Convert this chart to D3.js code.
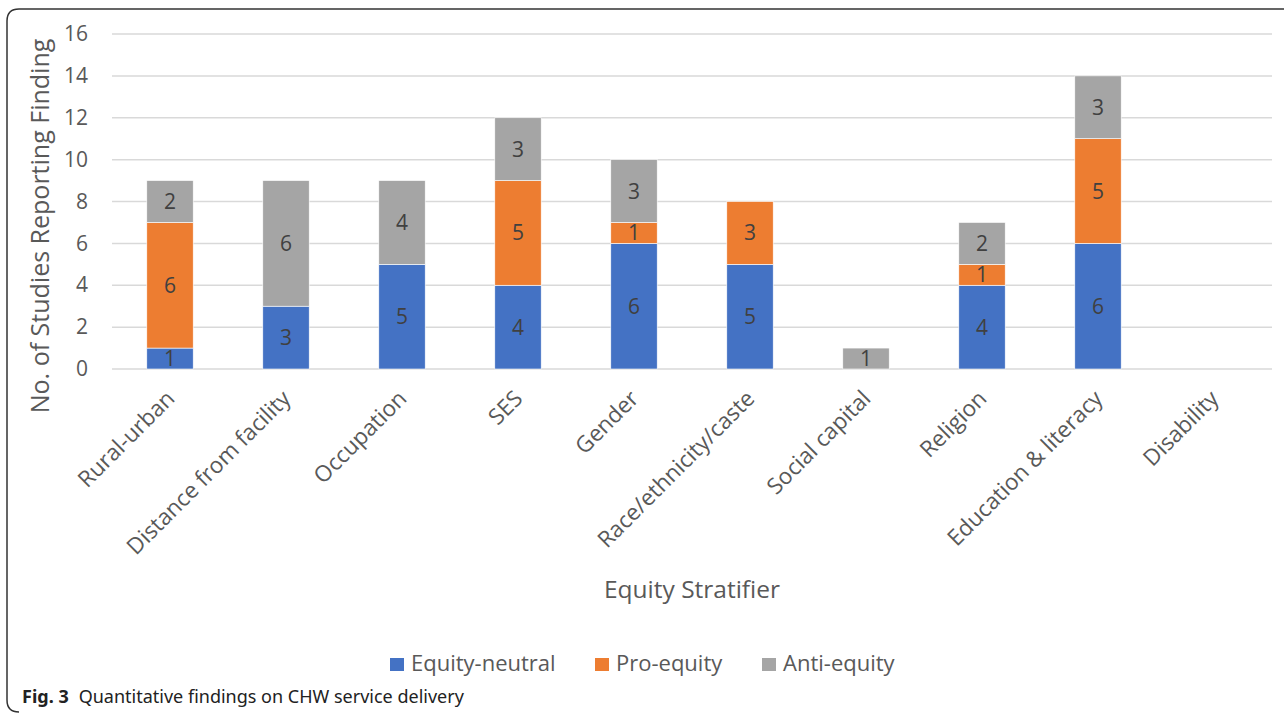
<!DOCTYPE html>
<html>
<head>
<meta charset="utf-8">
<script src="https://cdn.jsdelivr.net/npm/d3@7"></script>
<style>
  html, body { margin: 0; padding: 0; background: #fff; }
  svg { display: block; }
</style>
</head>
<body>
<svg id="chart" width="1284" height="715"></svg>
<script>
// Equity stratifiers and counts of studies per finding type
const categories = ["Rural-urban", "Distance from facility", "Occupation", "SES", "Gender",
  "Race/ethnicity/caste", "Social capital", "Religion", "Education & literacy", "Disability"];
const equityNeutral = [1, 3, 5, 4, 6, 5, 0, 4, 6, 0];
const proEquity     = [6, 0, 0, 5, 1, 3, 0, 1, 5, 0];
const antiEquity    = [2, 6, 4, 3, 3, 0, 1, 2, 3, 0];
const seriesNames   = ["Equity-neutral", "Pro-equity", "Anti-equity"];
const seriesColors  = ["#4472C4", "#ED7D31", "#A5A5A5"];
const yTicks        = [0, 2, 4, 6, 8, 10, 12, 14, 16];

const svg = d3.select("#chart");
const font = "'Open Sans', 'Noto Sans', sans-serif";
const textColor = "#595959";

// Outer frame: rounded left corners, open on the right
svg.append("path")
  .attr("d", "M 1290 9 L 19 9 Q 7 9 7 21 L 7 700 Q 7 712 19 712")
  .attr("fill", "none").attr("stroke", "#333").attr("stroke-width", 1.5);

const x = d3.scaleBand().domain(categories).range([112, 1272]).paddingInner(0.6).paddingOuter(0.3);
const y = d3.scaleLinear().domain([0, 16]).range([369, 34]);

// Gridlines
svg.append("g").selectAll("line").data(yTicks).join("line")
  .attr("x1", 112).attr("x2", 1272)
  .attr("y1", d => y(d)).attr("y2", d => y(d))
  .attr("stroke", "#d9d9d9").attr("stroke-width", 1.5);

// Y axis tick labels
const yAxis = d3.axisLeft(y).tickValues(yTicks).tickSize(0).tickPadding(0);
const yg = svg.append("g").attr("transform", "translate(88,0)").call(yAxis);
yg.select(".domain").remove();
yg.selectAll("text").attr("font-family", font).attr("font-size", 21).attr("fill", textColor);

// Stack the series
const rows = categories.map((c, i) => ({
  cat: c,
  "Equity-neutral": equityNeutral[i],
  "Pro-equity": proEquity[i],
  "Anti-equity": antiEquity[i]
}));
const stacked = d3.stack().keys(seriesNames)(rows);

const layers = svg.append("g").selectAll("g").data(stacked).join("g")
  .attr("fill", (d, i) => seriesColors[i]);

layers.selectAll("rect").data(d => d).join("rect")
  .attr("x", d => x(d.data.cat))
  .attr("width", x.bandwidth())
  .attr("y", d => y(d[1]))
  .attr("height", d => y(d[0]) - y(d[1]))
  .attr("stroke", "#fff").attr("stroke-width", 0.6);

// Segment value labels
layers.selectAll("text").data(d => d.filter(s => s[1] - s[0] > 0)).join("text")
  .attr("x", d => x(d.data.cat) + x.bandwidth() / 2)
  .attr("y", d => y((d[0] + d[1]) / 2))
  .attr("dy", "0.36em")
  .attr("text-anchor", "middle")
  .attr("font-family", font).attr("font-size", 21)
  .attr("fill", "#404040")
  .text(d => d[1] - d[0]);

// X axis category labels, rotated
const xAxis = d3.axisBottom(x).tickSize(0).tickPadding(0);
const xg = svg.append("g").attr("transform", "translate(0,369)").call(xAxis);
xg.select(".domain").remove();
xg.selectAll("text")
  .attr("font-family", font).attr("font-size", 22.5).attr("fill", textColor)
  .attr("text-anchor", "end")
  .attr("dy", null).attr("y", 0)
  .attr("transform", "translate(6,31) rotate(-45)");

// Axis titles
svg.append("text")
  .attr("transform", "translate(49,226) rotate(-90)")
  .attr("text-anchor", "middle")
  .attr("font-family", font).attr("font-size", 25).attr("fill", textColor)
  .text("No. of Studies Reporting Finding");

svg.append("text")
  .attr("x", 692).attr("y", 598)
  .attr("text-anchor", "middle")
  .attr("font-family", font).attr("font-size", 24.5).attr("fill", textColor)
  .text("Equity Stratifier");

// Legend
const legendX = [390, 595, 762];
const legend = svg.append("g").selectAll("g").data(seriesNames).join("g")
  .attr("transform", (d, i) => `translate(${legendX[i]},664)`);
legend.append("rect").attr("x", 0).attr("y", -6).attr("width", 14).attr("height", 13)
  .attr("fill", (d, i) => seriesColors[i]);
legend.append("text").attr("x", 21).attr("y", 0).attr("dy", "0.34em")
  .attr("font-family", font).attr("font-size", 22).attr("fill", textColor)
  .text(d => d);

// Caption
const cap = svg.append("text").attr("x", 22).attr("y", 703)
  .attr("font-family", "'Noto Sans', sans-serif").attr("font-size", 18).attr("fill", "#222");
cap.append("tspan").attr("font-weight", "bold").text("Fig. 3");
cap.append("tspan").attr("dx", 10).text("Quantitative findings on CHW service delivery");
</script>
</body>
</html>
